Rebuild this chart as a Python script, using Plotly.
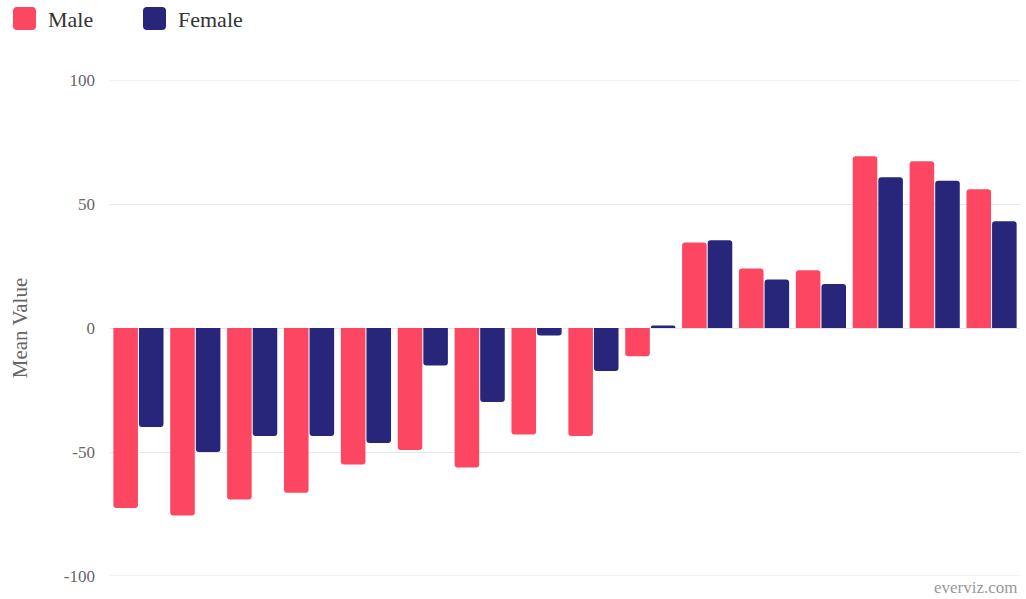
import plotly.graph_objects as go

# Mean values per group (16 groups), male vs female
groups = list(range(1, 17))
male = [-72.6, -75.6, -69.2, -66.4, -55.0, -49.2, -56.3, -42.9, -43.5, -11.4,
        34.5, 24.0, 23.3, 69.3, 67.2, 55.9]
female = [-39.9, -50.0, -43.5, -43.5, -46.4, -15.1, -29.8, -3.0, -17.3, 1.0,
          35.4, 19.6, 17.7, 60.8, 59.4, 43.0]

series_names = ["Male", "Female"]
series_colors = ["#FD4661", "#27267A"]
y_ticks = [-100, -50, 0, 50, 100]

W, H = 1026, 599
L, R, T, B = 110, 6, 80, 23
FONT = "Liberation Serif, Times New Roman, serif"
GRID = "#e6e6e6"

fig = go.Figure()
for name, vals, col in zip(series_names, [male, female], series_colors):
    fig.add_trace(go.Bar(
        x=groups, y=vals, name=name,
        marker=dict(color=col, line=dict(width=0)),
        showlegend=False,
        hovertemplate=name + ": %{y}<extra></extra>",
    ))

# Custom legend: rounded squares with labels, positioned in pixels from the plot's top-left corner
def rounded_square(x0, y0, size, r):
    x1, y1 = x0 + size, y0 - size
    return (f"M{x0 + r},{y0} L{x1 - r},{y0} Q{x1},{y0} {x1},{y0 - r} "
            f"L{x1},{y1 + r} Q{x1},{y1} {x1 - r},{y1} L{x0 + r},{y1} "
            f"Q{x0},{y1} {x0},{y1 + r} L{x0},{y0 - r} Q{x0},{y0} {x0 + r},{y0} Z")

legend_x = [13, 143]
shapes = []
annotations = []
for lx, name, col in zip(legend_x, series_names, series_colors):
    shapes.append(dict(
        type="path", xref="paper", yref="paper",
        xsizemode="pixel", ysizemode="pixel", xanchor=0, yanchor=1,
        path=rounded_square(lx - L, T - 7, 23, 4),
        fillcolor=col, line=dict(width=0),
    ))
    annotations.append(dict(
        text=name, xref="paper", yref="paper",
        x=(lx + 33 - L) / (W - L - R), y=1 + (T - 20) / (H - T - B),
        xanchor="left", yanchor="middle", showarrow=False,
        font=dict(family=FONT, size=22, color="#333333"),
    ))

# Grid lines at the axis extremes (the axis itself skips lines on the plot edges)
for yv in (y_ticks[0], y_ticks[-1]):
    shapes.append(dict(type="line", xref="paper", yref="y", x0=0, x1=1, y0=yv, y1=yv,
                       line=dict(color=GRID, width=1), layer="below"))

annotations.append(dict(
    text="everviz.com", xref="paper", yref="paper",
    x=1 + (R - 6) / (W - L - R), y=-(587 - (H - B)) / (H - T - B),
    xanchor="right", yanchor="middle", showarrow=False,
    font=dict(family=FONT, size=17, color="#999999"),
))

fig.update_layout(
    width=W, height=H,
    margin=dict(l=L, r=R, t=T, b=B, pad=0),
    plot_bgcolor="white", paper_bgcolor="white",
    barmode="group", bargap=0.1, bargroupgap=0.04, barcornerradius=3,
    shapes=shapes, annotations=annotations,
    font=dict(family=FONT, color="#666666"),
    xaxis=dict(range=[0.5, 16.5], showticklabels=False, showgrid=False,
               zeroline=False, showline=False, ticks=""),
    yaxis=dict(range=[-100, 100], tickvals=y_ticks, ticktext=[str(v) for v in y_ticks],
               showgrid=True, gridcolor=GRID, gridwidth=1,
               zeroline=True, zerolinecolor=GRID, zerolinewidth=1,
               showline=False, ticks="", ticklen=0, ticklabelstandoff=14,
               tickfont=dict(family=FONT, size=17, color="#666666"),
               title=dict(text="Mean Value", standoff=30,
                          font=dict(family=FONT, size=21, color="#666666"))),
)

fig.write_html("out.html")
